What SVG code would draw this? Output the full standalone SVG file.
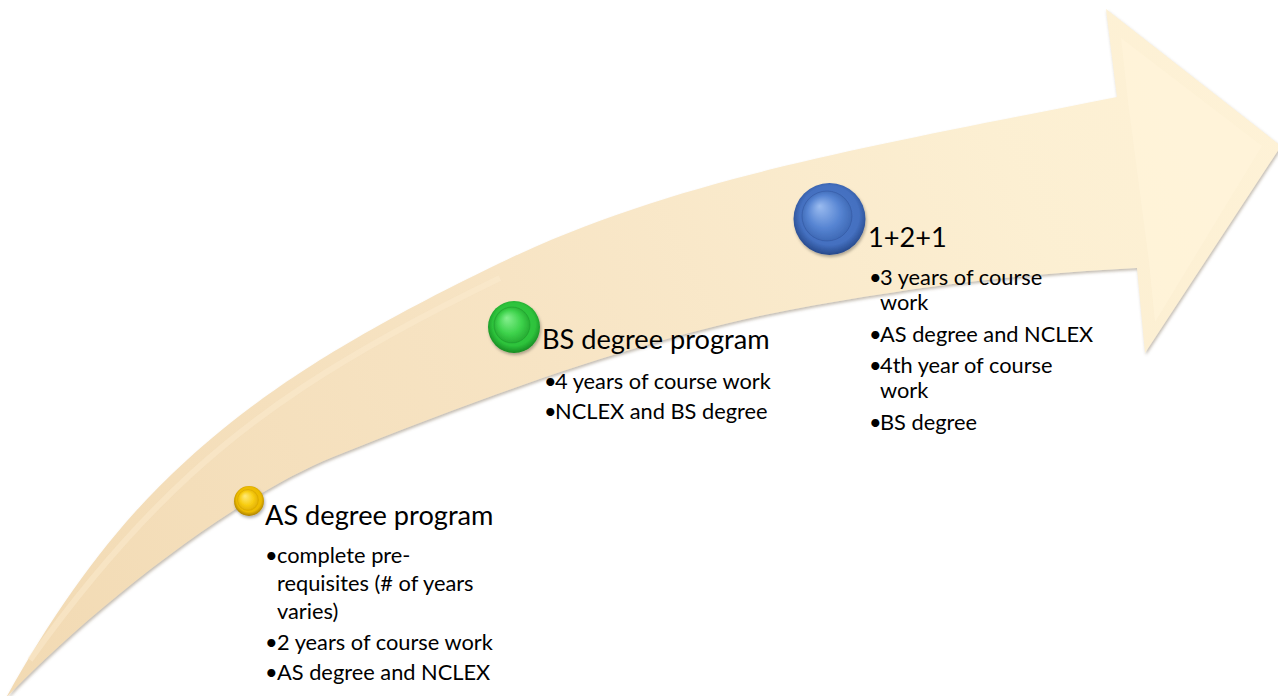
<svg xmlns="http://www.w3.org/2000/svg" width="1278" height="696" viewBox="0 0 1278 696">
<defs>
<style>
.t{font-family:Lato,"Liberation Sans",sans-serif;fill:#000}
.h{font-size:27.2px}
.b{font-size:21.8px}
</style>
<linearGradient id="body" gradientUnits="userSpaceOnUse" x1="0" y1="696" x2="1278" y2="80">
<stop offset="0" stop-color="#F2DAB3"/>
<stop offset="0.45" stop-color="#F7E4C4"/>
<stop offset="0.8" stop-color="#FCEFD2"/>
<stop offset="1" stop-color="#FEF2D7"/>
</linearGradient>
<filter id="sh" x="-5%" y="-5%" width="110%" height="115%">
<feDropShadow dx="1" dy="2" stdDeviation="1.5" flood-color="#7a6a55" flood-opacity="0.45"/>
</filter>
<filter id="csh" x="-30%" y="-30%" width="160%" height="160%">
<feDropShadow dx="1" dy="2" stdDeviation="1.5" flood-color="#000" flood-opacity="0.3"/>
</filter>
<radialGradient id="yo" cx="50%" cy="45%" r="55%"><stop offset="0" stop-color="#F6C800"/><stop offset="0.75" stop-color="#EDBB00"/><stop offset="1" stop-color="#A97E00"/></radialGradient>
<radialGradient id="yi" cx="50%" cy="50%" fx="35%" fy="30%" r="55%"><stop offset="0" stop-color="#FFEA7A"/><stop offset="0.6" stop-color="#F8CD12"/><stop offset="1" stop-color="#DDAA00"/></radialGradient>
<radialGradient id="go" cx="50%" cy="45%" r="55%"><stop offset="0" stop-color="#35D044"/><stop offset="0.75" stop-color="#2DC23B"/><stop offset="1" stop-color="#178A22"/></radialGradient>
<radialGradient id="gi" cx="50%" cy="50%" fx="35%" fy="30%" r="55%"><stop offset="0" stop-color="#86F08F"/><stop offset="0.6" stop-color="#3DD24B"/><stop offset="1" stop-color="#22A52E"/></radialGradient>
<radialGradient id="bo" cx="50%" cy="45%" r="55%"><stop offset="0" stop-color="#4B78C8"/><stop offset="0.75" stop-color="#4470C0"/><stop offset="1" stop-color="#26488A"/></radialGradient>
<radialGradient id="bi" cx="50%" cy="50%" fx="35%" fy="30%" r="55%"><stop offset="0" stop-color="#9BBCF0"/><stop offset="0.6" stop-color="#5684D2"/><stop offset="1" stop-color="#3A64B0"/></radialGradient>
</defs>
<rect width="1278" height="696" fill="#fff"/>
<g id="arrow">
<path filter="url(#sh)" fill="url(#body)" d="M 6,698 C 60,600 120,520 187,460 S 330,345 500,263 S 850,150 1117,97 L 1106,9 L 1281,146 L 1145,353 L 1137,268 C 1000,275 900,290 800,308 S 560,365 333,457 C 230,499 90,610 6,698 Z"/>
<polygon points="1128,102 1121,38 1262,146 1155,322 1149,262" fill="#FFF4DA" opacity="0.7"/>
<path d="M 30,660 C 80,590 130,530 190,475 S 330,360 500,278" fill="none" stroke="#FBEBD0" stroke-width="6" opacity="0.5"/>
</g>
<g id="node-as">
<g filter="url(#csh)">
<circle cx="249" cy="501" r="15" fill="url(#yo)"/>
<circle cx="248" cy="500" r="10.5" fill="url(#yi)" stroke="#C99A00" stroke-opacity="0.4" stroke-width="0.8"/>
</g>
<text class="t h" x="265" y="525">AS degree program</text>
<text class="t b" y="563"><tspan x="265">•</tspan><tspan x="277">complete pre-</tspan></text>
<text class="t b" x="277" y="591">requisites (# of years</text>
<text class="t b" x="277" y="619">varies)</text>
<text class="t b" y="650"><tspan x="265">•</tspan><tspan x="277">2 years of course work</tspan></text>
<text class="t b" y="680"><tspan x="265">•</tspan><tspan x="277">AS degree and NCLEX</tspan></text>
</g>
<g id="node-bs">
<g filter="url(#csh)">
<circle cx="514" cy="327" r="26" fill="url(#go)"/>
<circle cx="512" cy="325" r="18" fill="url(#gi)" stroke="#168A21" stroke-opacity="0.35" stroke-width="1"/>
</g>
<text class="t h" x="542" y="349">BS degree program</text>
<text class="t b" y="389"><tspan x="544">•</tspan><tspan x="555">4 years of course work</tspan></text>
<text class="t b" y="419"><tspan x="544">•</tspan><tspan x="555">NCLEX and BS degree</tspan></text>
</g>
<g id="node-121">
<g filter="url(#csh)">
<circle cx="829.5" cy="219" r="36" fill="url(#bo)"/>
<circle cx="827" cy="216" r="25" fill="url(#bi)" stroke="#28498C" stroke-opacity="0.35" stroke-width="1"/>
</g>
<text class="t h" x="868" y="247">1+2+1</text>
<text class="t b" y="285"><tspan x="869">•</tspan><tspan x="880">3 years of course</tspan></text>
<text class="t b" x="880" y="310">work</text>
<text class="t b" y="342"><tspan x="869">•</tspan><tspan x="880">AS degree and NCLEX</tspan></text>
<text class="t b" y="373"><tspan x="869">•</tspan><tspan x="880">4th year of course</tspan></text>
<text class="t b" x="880" y="398">work</text>
<text class="t b" y="430"><tspan x="869">•</tspan><tspan x="880">BS degree</tspan></text>
</g>
<g id="connectors"></g>
</svg>
